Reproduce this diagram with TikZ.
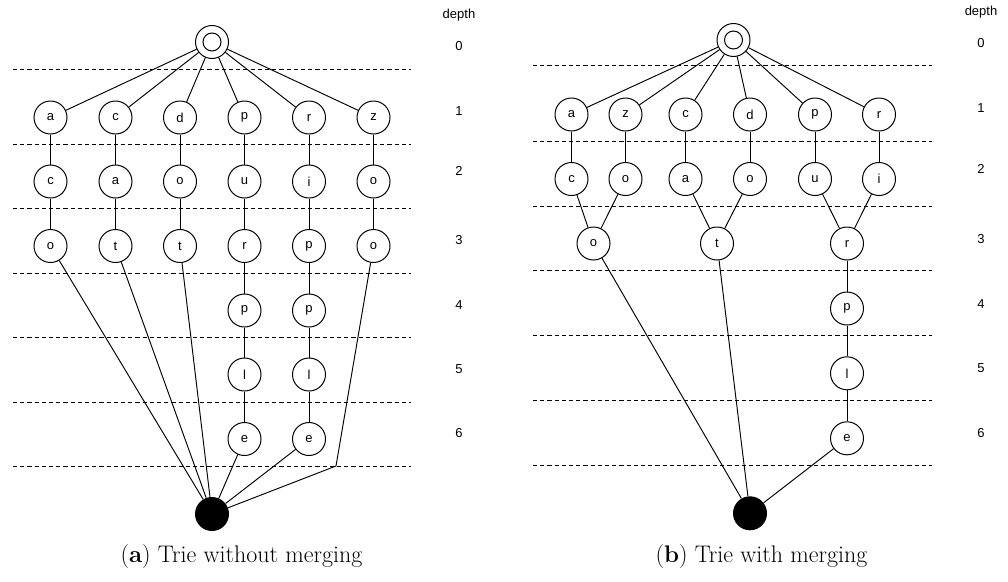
\documentclass[tikz,border=0pt]{standalone}
\usepackage{fontspec}
\newfontfamily\labelfont{Liberation Sans}
\begin{document}
\begin{tikzpicture}[x=1pt,y=-1pt,
  st/.style={circle, draw, line width=1pt, minimum size=33pt, inner sep=0pt,
    fill=white, font=\labelfont\fontsize{13}{15}\selectfont},
  rootst/.style={st, path picture={\draw[line width=1pt] (path picture bounding box.center) circle (9pt);}},
  sink/.style={circle, fill=black, minimum size=34pt, inner sep=0pt},
  edge/.style={line width=0.95pt},
  level/.style={line width=0.95pt, dash pattern=on 4.2pt off 3pt},
  dl/.style={font=\labelfont\fontsize{13}{15}\selectfont, inner sep=0pt},
  subcap/.style={font=\fontsize{24}{27}\selectfont, anchor=base, inner sep=0pt}]
\useasboundingbox (0,0) rectangle (1008,581);

% ---------------- (a) trie without merging ----------------
\foreach \y in {69,144.3,208.5,273,337.5,402,466}
  \draw[level] (13,\y) -- (411,\y);

\node[dl] (Ldepth) at (459,15) {depth};
\node[dl] (Ld0) at (459,46.5) {0};
\node[dl] (Ld1) at (459,111.5) {1};
\node[dl] (Ld2) at (459,171) {2};
\node[dl] (Ld3) at (459,240) {3};
\node[dl] (Ld4) at (459,305) {4};
\node[dl] (Ld5) at (459,369.5) {5};
\node[dl] (Ld6) at (459,433.5) {6};

\node[rootst] (Lroot) at (212,42) {};

\node[st] (L1a) at (50.5,117.5) {a};
\node[st] (L1c) at (115.5,117.5) {c};
\node[st] (L1d) at (180,117.5) {d};
\node[st] (L1p) at (244.5,117.5) {p};
\node[st] (L1r) at (309,117.5) {r};
\node[st] (L1z) at (373.5,117.5) {z};

\node[st] (L2a) at (50.5,181.5) {c};
\node[st] (L2c) at (115.5,181.5) {a};
\node[st] (L2d) at (180,181.5) {o};
\node[st] (L2p) at (244.5,181.5) {u};
\node[st] (L2r) at (309,181.5) {i};
\node[st] (L2z) at (373.5,181.5) {o};

\node[st] (L3a) at (50.5,246) {o};
\node[st] (L3c) at (115.5,246) {t};
\node[st] (L3d) at (180,246) {t};
\node[st] (L3p) at (244.5,246) {r};
\node[st] (L3r) at (309,246) {p};
\node[st] (L3z) at (373.5,246) {o};

\node[st] (L4p) at (244.5,310.5) {p};
\node[st] (L4r) at (309,310.5) {p};
\node[st] (L5p) at (244.5,374.5) {l};
\node[st] (L5r) at (309,374.5) {l};
\node[st] (L6p) at (244.5,439) {e};
\node[st] (L6r) at (309,439) {e};

\node[sink] (Lend) at (212,514) {};
\coordinate (Lbend) at (336,466);

\foreach \n in {L1a,L1c,L1d,L1p,L1r,L1z}
  \draw[edge] (Lroot) -- (\n);
\foreach \c in {a,c,d,p,r,z}
  \draw[edge] (L1\c) -- (L2\c) -- (L3\c);
\draw[edge] (L3p) -- (L4p) -- (L5p) -- (L6p);
\draw[edge] (L3r) -- (L4r) -- (L5r) -- (L6r);
\draw[edge] (L3a) -- (Lend);
\draw[edge] (L3c) -- (Lend);
\draw[edge] (L3d) -- (Lend);
\draw[edge] (L6p) -- (Lend);
\draw[edge] (L6r) -- (Lend);
\draw[edge] (L3z) -- (Lbend) -- (Lend);

\node[subcap] (capa) at (241.5,562) {(\textbf{a}) Trie without merging};

% ---------------- (b) trie with merging ----------------
\foreach \y in {65.7,141.5,206,270.7,335.5,400.7,465}
  \draw[level] (533,\y) -- (932,\y);

\node[dl] (Rdepth) at (981,12.3) {depth};
\node[dl] (Rd0) at (981,43.3) {0};
\node[dl] (Rd1) at (981,108.5) {1};
\node[dl] (Rd2) at (981,168.5) {2};
\node[dl] (Rd3) at (981,239) {3};
\node[dl] (Rd4) at (981,304) {4};
\node[dl] (Rd5) at (981,368) {5};
\node[dl] (Rd6) at (981,433) {6};

\node[rootst] (Rroot) at (733.5,40) {};

\node[st] (R1a) at (571.5,114.5) {a};
\node[st] (R1z) at (625.5,114.5) {z};
\node[st] (R1c) at (685.5,114.5) {c};
\node[st] (R1d) at (750,114.5) {d};
\node[st] (R1p) at (815,114.5) {p};
\node[st] (R1r) at (879,114.5) {r};

\node[st] (R2a) at (571.5,179) {c};
\node[st] (R2z) at (625.5,179) {o};
\node[st] (R2c) at (685.5,179) {a};
\node[st] (R2d) at (750,179) {o};
\node[st] (R2p) at (815,179) {u};
\node[st] (R2r) at (879,179) {i};

\node[st] (R3o) at (593.5,243.5) {o};
\node[st] (R3t) at (717,243.5) {t};
\node[st] (R3r) at (847,243.5) {r};
\node[st] (R4p) at (847,308.5) {p};
\node[st] (R5l) at (847,373.3) {l};
\node[st] (R6e) at (847,438.3) {e};

\node[sink] (Rend) at (750,513.3) {};

\foreach \n in {R1a,R1z,R1c,R1d,R1p,R1r}
  \draw[edge] (Rroot) -- (\n);
\foreach \c in {a,z,c,d,p,r}
  \draw[edge] (R1\c) -- (R2\c);
\draw[edge] (R2a) -- (R3o);
\draw[edge] (R2z) -- (R3o);
\draw[edge] (R2c) -- (R3t);
\draw[edge] (R2d) -- (R3t);
\draw[edge] (R2p) -- (R3r);
\draw[edge] (R2r) -- (R3r);
\draw[edge] (R3r) -- (R4p) -- (R5l) -- (R6e);
\draw[edge] (R3o) -- (Rend);
\draw[edge] (R3t) -- (Rend);
\draw[edge] (R6e) -- (Rend);

\node[subcap] (capb) at (761.5,562) {(\textbf{b}) Trie with merging};
\end{tikzpicture}
\end{document}
